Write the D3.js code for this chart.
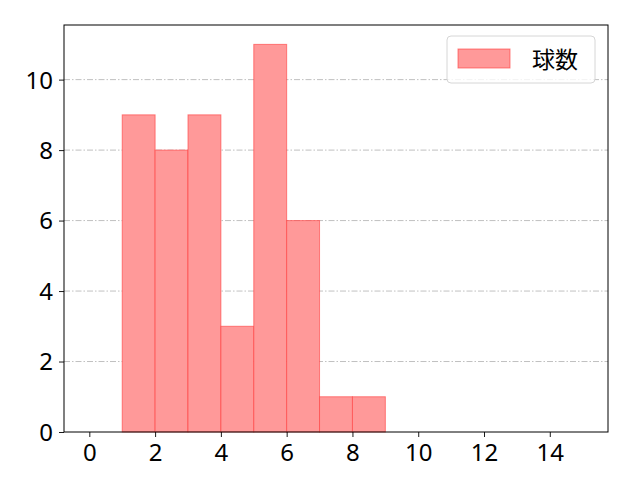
<!DOCTYPE html>
<html>
<head>
<meta charset="utf-8">
<script src="https://cdn.jsdelivr.net/npm/d3@7"></script>
<style>
  body { margin: 0; background: #fff; }
  svg { font-family: "Noto Sans", "Noto Sans CJK JP", sans-serif; }
</style>
</head>
<body>
<svg id="chart" width="640" height="480"></svg>
<script>
// histogram bins (left edge) and counts
const binStarts = [1, 2, 3, 4, 5, 6, 7, 8];
const counts = [9, 8, 9, 3, 11, 6, 1, 1];
const binWidth = 1;
const xTicks = [0, 2, 4, 6, 8, 10, 12, 14];
const yTicks = [0, 2, 4, 6, 8, 10];
const seriesName = '球数';

const width = 640, height = 480;
const margin = { top: 25, right: 32, bottom: 48, left: 64 };
const svg = d3.select('#chart');

const x = d3.scaleLinear()
  .domain([-0.77, 15.77])
  .range([margin.left, width - margin.right]);

const y = d3.scaleLinear()
  .domain([0, 11.55])
  .range([height - margin.bottom, margin.top]);

// grid
svg.append('g')
  .selectAll('line')
  .data(yTicks.filter(d => d > 0))
  .join('line')
  .attr('x1', margin.left)
  .attr('x2', width - margin.right)
  .attr('y1', d => y(d))
  .attr('y2', d => y(d))
  .attr('stroke', '#b0b0b0')
  .attr('stroke-width', 0.8)
  .attr('stroke-dasharray', '6,2,1.5,2');

// bars
svg.append('g')
  .selectAll('rect')
  .data(binStarts.map((b, i) => ({ b, v: counts[i] })))
  .join('rect')
  .attr('x', d => x(d.b))
  .attr('y', d => y(d.v))
  .attr('width', d => x(d.b + binWidth) - x(d.b))
  .attr('height', d => y(0) - y(d.v))
  .attr('fill', '#ff9999')
  .attr('stroke', '#ff3b3b')
  .attr('stroke-opacity', 0.6)
  .attr('stroke-width', 1);

// axes
const xAxis = svg.append('g')
  .attr('transform', `translate(0,${height - margin.bottom})`)
  .call(d3.axisBottom(x).tickValues(xTicks).tickSize(5).tickPadding(5));

const yAxis = svg.append('g')
  .attr('transform', `translate(${margin.left},0)`)
  .call(d3.axisLeft(y).tickValues(yTicks).tickSize(5).tickPadding(6));

[xAxis, yAxis].forEach(g => {
  g.attr('font-family', null).attr('font-size', null);
  g.select('.domain').remove();
  g.selectAll('text').style('font-size', '24px').attr('fill', '#000');
  g.selectAll('line').attr('stroke', '#000').attr('stroke-width', 0.9);
});
xAxis.selectAll('text').attr('dy', '0.8em');
yAxis.selectAll('text').attr('dy', '0.35em');

// frame
svg.append('rect')
  .attr('x', margin.left)
  .attr('y', margin.top)
  .attr('width', width - margin.left - margin.right)
  .attr('height', height - margin.top - margin.bottom)
  .attr('fill', 'none')
  .attr('stroke', '#000')
  .attr('stroke-width', 1);

// legend
const legend = svg.append('g').attr('transform', 'translate(447,36)');
legend.append('rect')
  .attr('width', 148).attr('height', 47)
  .attr('rx', 4)
  .attr('fill', '#fff').attr('fill-opacity', 0.8)
  .attr('stroke', '#d6d6d6');
legend.append('rect')
  .attr('x', 11).attr('y', 13)
  .attr('width', 52).attr('height', 19)
  .attr('fill', '#ff9999')
  .attr('stroke', '#ff3b3b').attr('stroke-opacity', 0.6);
legend.append('text')
  .attr('x', 85).attr('y', 32)
  .style('font-family', '"Noto Sans CJK JP", sans-serif')
  .style('font-size', '23px')
  .attr('fill', '#000')
  .text(seriesName);
</script>
</body>
</html>
